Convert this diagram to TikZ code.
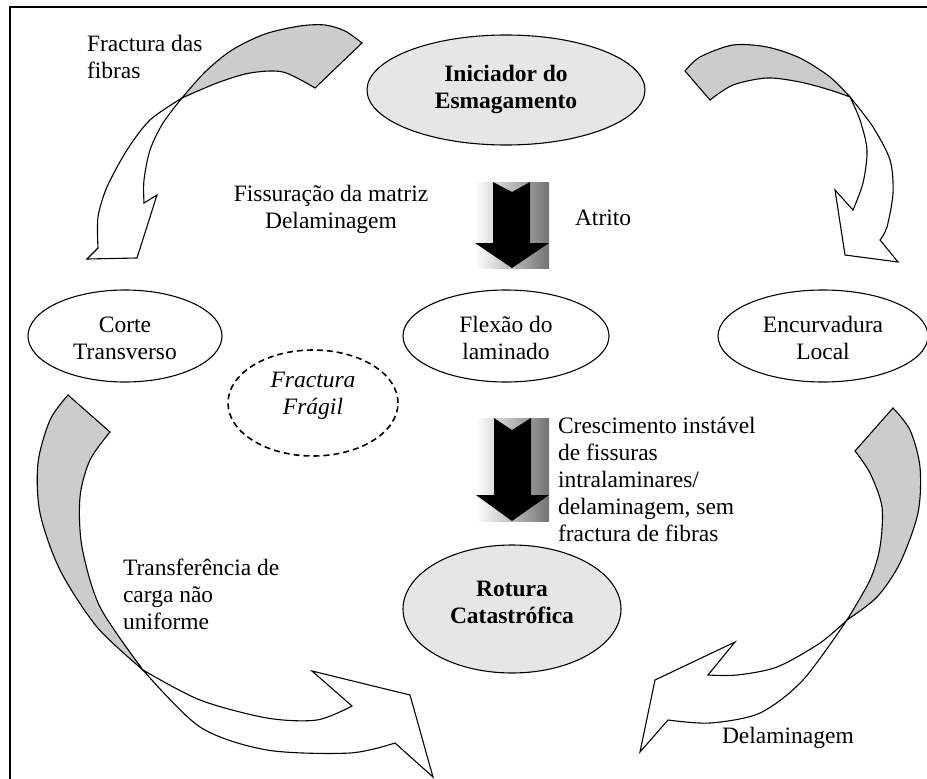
\documentclass[tikz,border=0pt]{standalone}
\usepackage{fontspec}
\setmainfont{Liberation Serif}
\usetikzlibrary{shapes.geometric}
\definecolor{ellgray}{HTML}{E6E6E6}
\definecolor{arrgray}{HTML}{CCCCCC}
\tikzset{
  txt/.style={font=\fontsize{23.5pt}{27pt}\selectfont, inner sep=0pt, outer sep=0pt},
  ell/.style={draw, ellipse, line width=1.1pt, inner sep=0pt},
  ribbon/.style={draw=black, line width=1.1pt, line join=miter},
  blockbg/.style={left color=white, right color=black!55, draw=none},
  blockarrow/.style={fill=black, draw=none},
}
\begin{document}
\begin{tikzpicture}[x=1pt, y=-1pt]
\useasboundingbox (0,0) rectangle (927,779);
\clip (0,0) rectangle (927,779);
\fill[white] (0,0) rectangle (927,779);
% frame
\draw[line width=1.3pt] (10,7) rectangle (945,795);

% ---- curved arrows ----
% top-left
\filldraw[ribbon, fill=arrgray] plot[smooth] coordinates {(182,98) (205,72) (232,50) (265,34) (300,26) (325,25) (345,31) (362,43)}
  -- (315,88) -- plot[smooth] coordinates {(315,88) (283,72) (250,73) (217,83) (182,98)} -- cycle;
\filldraw[ribbon, fill=white] plot[smooth] coordinates {(182,98) (150,120) (127,150) (107,187) (98,217) (98,248)}
  -- (87,259) -- (137,258) -- (157,195) -- (144,203)
  -- plot[smooth] coordinates {(144,203) (144,180) (150,150) (163,123) (182,98)} -- cycle;
% top-right
\filldraw[ribbon, fill=arrgray] plot[smooth] coordinates {(685,71) (700,57) (733,45) (767,47) (800,58) (830,77) (850,97)}
  -- plot[smooth] coordinates {(850,97) (830,90) (800,82) (767,78) (733,85) (710,100)} -- cycle;
\filldraw[ribbon, fill=white] plot[smooth] coordinates {(850,97) (873,127) (890,160) (893,193) (887,227) (880,240)}
  -- (898,262) -- (845,255) -- (835,190) -- (853,210)
  -- plot[smooth] coordinates {(853,210) (863,183) (867,150) (860,120) (850,97)} -- cycle;
% bottom-left
\filldraw[ribbon, fill=arrgray] plot[smooth] coordinates {(68,395) (50,420) (38,463) (40,513) (60,570) (97,627) (143,670)}
  -- plot[smooth] coordinates {(143,670) (100,607) (82,547) (80,497) (90,460) (110,432)} -- cycle;
\filldraw[ribbon, fill=white] plot[smooth] coordinates {(143,670) (200,700) (267,718) (317,720) (352,706)}
  -- (312,671) -- (410,695) -- (433,777) -- (395,743)
  -- plot[smooth] coordinates {(395,743) (350,753) (267,750) (200,727) (143,670)} -- cycle;
% bottom-right
\filldraw[ribbon, fill=arrgray] plot[smooth] coordinates {(893,408) (910,430) (920,467) (918,513) (900,563) (877,597) (847,620)}
  -- plot[smooth] coordinates {(847,620) (870,580) (880,547) (882,507) (870,473) (855,451)} -- cycle;
\filldraw[ribbon, fill=white] plot[smooth] coordinates {(847,620) (820,643) (777,667) (737,675) (708,675)}
  -- (735,642) -- (655,680) -- (640,752) -- (668,720)
  -- plot[smooth] coordinates {(668,720) (710,723) (760,713) (803,680) (847,620)} -- cycle;

% ---- ellipses ----
\node[ell, fill=ellgray, minimum width=278pt, minimum height=110pt] (init) at (506,90) {};
\node[txt, align=center, font=\fontsize{23.5pt}{27pt}\selectfont\bfseries] (initt) at (506,89) {Iniciador do\\Esmagamento};

\node[ell, minimum width=194pt, minimum height=92pt] (corte) at (125,336) {};
\node[txt, align=center] (cortet) at (125,338) {Corte\\Transverso};

\node[ell, minimum width=206pt, minimum height=92pt] (flex) at (506,336) {};
\node[txt, align=center] (flext) at (506,338) {Flexão do\\laminado};

\node[ell, minimum width=210pt, minimum height=92pt] (enc) at (823,336) {};
\node[txt, align=center] (enct) at (823,338) {Encurvadura\\Local};

\node[ell, line width=1.6pt, dash pattern=on 6pt off 4pt, minimum width=170pt, minimum height=106pt] (frag) at (313,403) {};
\node[txt, align=center, font=\fontsize{23.5pt}{27pt}\selectfont\itshape] (fragt) at (313,396) {Fractura\\Frágil};

\node[ell, fill=ellgray, minimum width=218pt, minimum height=128pt] (rot) at (512,609) {};
\node[txt, align=center, font=\fontsize{23.5pt}{27pt}\selectfont\bfseries] (rott) at (512,602) {Rotura\\Catastrófica};

% ---- block arrows ----
\shade[blockbg] (475,182) rectangle (549,268);
\fill[blockarrow] (493,182) -- (512,192) -- (530,182) -- (530,243) -- (549,243) -- (512,268) -- (475,243) -- (493,243) -- cycle;
\shade[blockbg] (476,418) rectangle (549,521);
\fill[blockarrow] (494,418) -- (512,430) -- (531,418) -- (531,495) -- (549,495) -- (512,521) -- (476,495) -- (494,495) -- cycle;

% ---- labels ----
\node[txt, align=left, anchor=west] (l1) at (87,57) {Fractura das\\fibras};
\node[txt, align=center] (l2) at (331,209) {Fissuração da matriz\\Delaminagem};
\node[txt, anchor=west] (l3) at (575,218) {Atrito};
\node[txt, align=left, anchor=west] (l4) at (558,479) {Crescimento instável\\de fissuras\\intralaminares/\\delaminagem, sem\\fractura de fibras};
\node[txt, align=left, anchor=west] (l5) at (123,594) {Transferência de\\carga não\\uniforme};
\node[txt, anchor=west] (l6) at (722,738) {Delaminagem};
\end{tikzpicture}
\end{document}
